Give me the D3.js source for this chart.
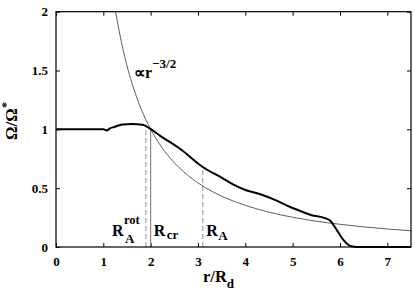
<!DOCTYPE html>
<html><head><meta charset="utf-8">
<script src="https://cdn.jsdelivr.net/npm/d3@7"></script>
<style>
html,body{margin:0;padding:0;background:#fff;}
svg{display:block;}
</style></head>
<body>
<script>
// ---- data ----
const xTicks = [0,1,2,3,4,5,6,7];
const yTicks = [0,0.5,1,1.5,2];
const yTickLabels = ["0","0.5","1","1.5","2"];
// thick curve: Omega/Omega* vs r/Rd (simulation profile)
const profR = [0,0.5,1.0,1.07,1.15,1.23,1.3,1.41,1.6,1.83,1.97,2.2,2.62,3.1,3.5,3.75,4.0,4.3,4.6,4.95,5.2,5.4,5.65,5.79,5.93,6.07,6.18,6.3,6.4,7.5];
const profOmega = [1.0,1.0,1.0,0.99,1.01,1.02,1.03,1.042,1.045,1.04,1.01,0.945,0.835,0.68,0.59,0.53,0.485,0.45,0.405,0.34,0.30,0.27,0.25,0.225,0.145,0.06,0.017,0.002,0,0];
// thin reference curve  ∝ r^-3/2
const powR = [1.26,1.3,1.4,1.5,1.6,1.7,1.8,1.9,2.0,2.2,2.4,2.6,2.8,3.0,3.3,3.6,4.0,4.5,5.0,5.5,6.0,6.5,7.0,7.5];
const powOmega = [2.0,1.909,1.708,1.540,1.398,1.277,1.172,1.081,1.001,0.867,0.761,0.675,0.604,0.545,0.472,0.414,0.354,0.296,0.253,0.219,0.193,0.171,0.153,0.138];
// radii markers
const markerR = [1.9,2.0,3.1];
const markerOmega = [1.0,1.0,0.68];

// ---- layout ----
const W = 415, H = 294;
const m = {left:56, right:4, top:11.7, bottom:47};
const x = d3.scaleLinear().domain([0,7.5]).range([m.left, W-m.right]);
const y = d3.scaleLinear().domain([0,2]).range([H-m.bottom, m.top]);
const FONT = "'Liberation Serif','Times New Roman',Times,serif";

const svg = d3.select("body").append("svg").attr("width",W).attr("height",H);

function styleText(sel, size){
  sel.style("font-family",FONT).style("font-weight","bold").style("font-size",size).attr("fill","#000");
}

// ticks (inward on all four sides)
const tl = 4;
function styleAxis(g){ g.attr("font-family",null).attr("font-size",null); g.select(".domain").remove(); g.selectAll("line").attr("stroke","#000").attr("stroke-width",1); }
svg.append("g").attr("transform",`translate(0,${y(0)})`)
  .call(d3.axisBottom(x).tickValues(xTicks).tickSize(-tl).tickPadding(10).tickFormat(d3.format("d")))
  .call(styleAxis).selectAll("text").call(styleText,"13px");
svg.append("g").attr("transform",`translate(0,${y(2)})`)
  .call(d3.axisTop(x).tickValues(xTicks).tickSize(-tl).tickFormat(""))
  .call(styleAxis);
svg.append("g").attr("transform",`translate(${x(0)},0)`)
  .call(d3.axisLeft(y).tickValues(yTicks).tickSize(-tl).tickPadding(8).tickFormat((d,i)=>yTickLabels[i]))
  .call(styleAxis).selectAll("text").call(styleText,"13px");
svg.append("g").attr("transform",`translate(${x(7.5)},0)`)
  .call(d3.axisRight(y).tickValues(yTicks).tickSize(-tl).tickFormat(""))
  .call(styleAxis);

// marker lines
const dash = [true,false,true];
markerR.forEach((r,i)=>{
  svg.append("line").attr("x1",x(r)).attr("x2",x(r)).attr("y1",y(0)).attr("y2",y(markerOmega[i]))
    .attr("stroke", dash[i] ? "#9a9a9a" : "#808080").attr("stroke-width",1.1)
    .attr("stroke-dasharray", dash[i] ? "5,3" : null);
});

// thin power-law curve
svg.append("path").datum(powR.map((r,i)=>[r,powOmega[i]]))
  .attr("fill","none").attr("stroke","#333").attr("stroke-width",0.8)
  .attr("d", d3.line().x(d=>x(d[0])).y(d=>y(d[1])).curve(d3.curveMonotoneX));

// thick profile
svg.append("path").datum(profR.map((r,i)=>[r,profOmega[i]]))
  .attr("fill","none").attr("stroke","#000").attr("stroke-width",2)
  .attr("d", d3.line().x(d=>x(d[0])).y(d=>y(d[1])).curve(d3.curveMonotoneX));

// frame
svg.append("rect").attr("x",x(0)).attr("y",y(2)).attr("width",x(7.5)-x(0)).attr("height",y(0)-y(2))
  .attr("fill","none").attr("stroke","#000").attr("stroke-width",1.2);

// annotations
function label(px,py,size,str){ return svg.append("text").attr("x",px).attr("y",py).call(styleText,size).text(str); }
// R_A^rot
label(x(markerR[0])-34,235.7,"16px","R");
label(x(markerR[0])-22,224,"12.5px","rot");
label(x(markerR[0])-21,243,"13px","A");
// R_cr
label(x(markerR[1])+3,235.7,"16px","R");
label(x(markerR[1])+16,239,"13px","cr");
// R_A
label(x(markerR[2])+3.5,235.7,"16px","R");
label(x(markerR[2])+15.5,239.5,"13px","A");

// ∝ r^-3/2
const pl = svg.append("text").attr("x",134).attr("y",78.3).call(styleText,"16px");
pl.append("tspan").text("\u221Dr");
pl.append("tspan").attr("dy",-10).style("font-size","13px").text("\u22123/2");

// axis labels
const xl = svg.append("text").attr("x",203).attr("y",281.7).call(styleText,"16.5px");
xl.append("tspan").text("r/R");
xl.append("tspan").attr("dy",6).style("font-size","13px").text("d");

const yl = svg.append("text").attr("transform","translate(17,140) rotate(-90)").call(styleText,"17px");
yl.append("tspan").text("\u03A9/\u03A9");
yl.append("tspan").attr("dy",-7).style("font-size","12px").text("*");
</script>
</body></html>
